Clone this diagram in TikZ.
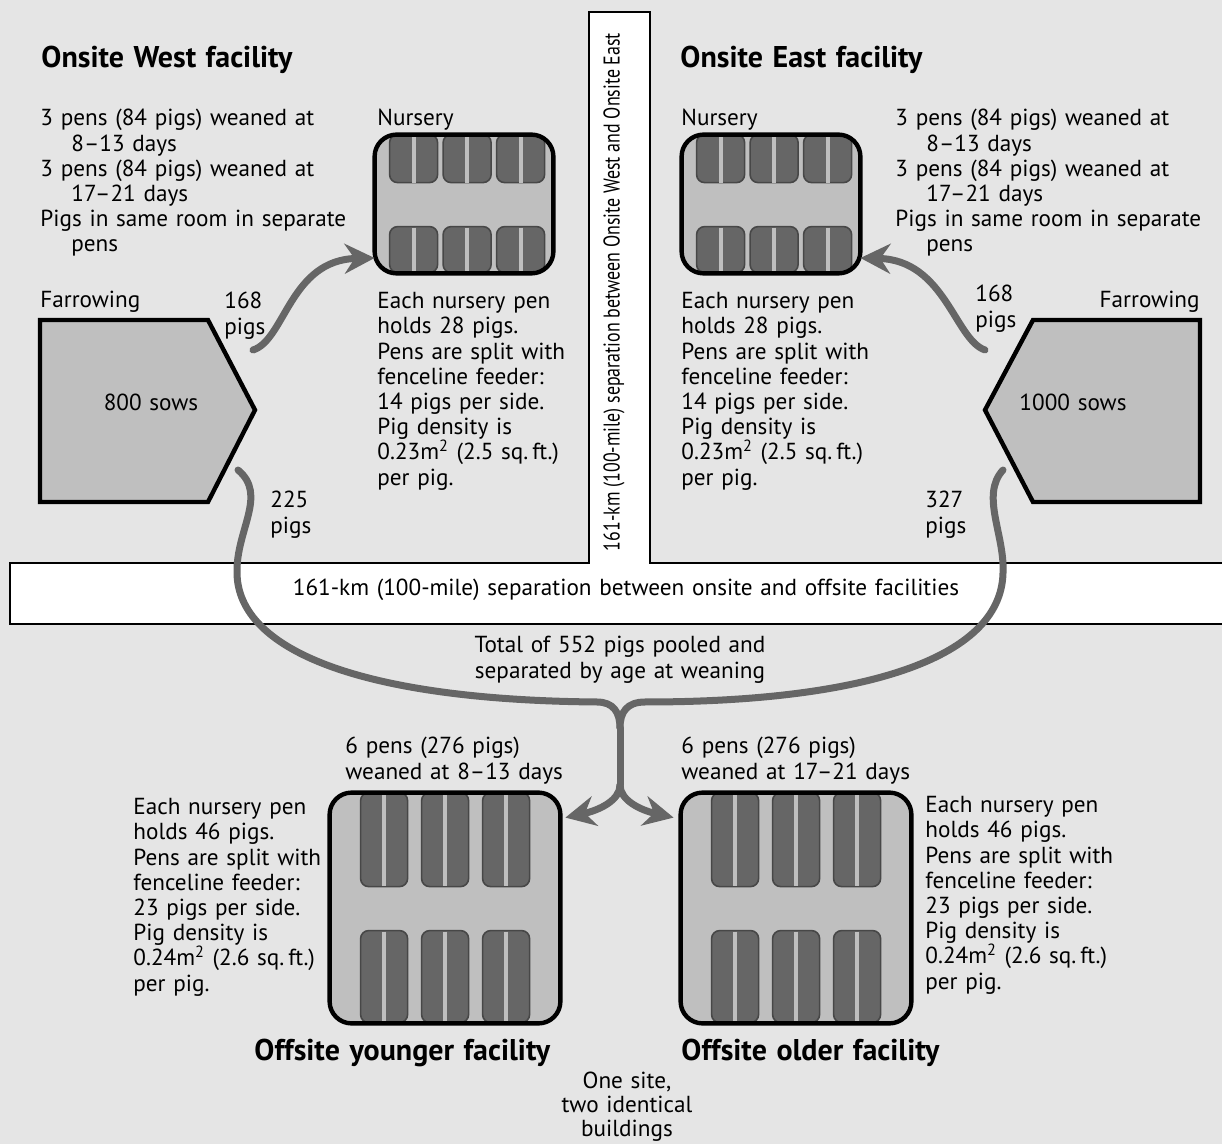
\documentclass[tikz,border=0pt]{standalone}
\usepackage{fontspec}
\setmainfont[WordSpace=1.25]{PT Sans}
\newfontfamily\narrowsans[FakeStretch=0.785]{PT Sans}
\usetikzlibrary{positioning,arrows.meta}

\begin{document}
\begin{tikzpicture}[x=0.5pt,y=-0.5pt,
  hall/.style={fill=black!25,minimum width=89pt,minimum height=69pt,rounded corners=11pt},
  hallline/.style={draw=black,line width=2.2pt,rounded corners=11pt},
  pen/.style={fill=black!60,draw=black!72,line width=0.8pt,rounded corners=4pt},
  slot/.style={draw=black!25,line width=2pt},
  flow/.style={draw=black!60,line width=3.5pt,line cap=round},
  flowtip/.style={-{Stealth[length=15pt,width=15pt,inset=5pt]}},
  txt/.style={align=left,font=\fontsize{11.6}{12.6}\selectfont},
  ctxt/.style={align=center,font=\fontsize{11.6}{12.6}\selectfont},
  head/.style={font=\fontsize{15}{17}\selectfont\bfseries},
  farrow/.style={fill=black!25,draw=black,line width=2.2pt}]
\tikzstyle{every node}+=[inner sep=0pt]
\fill [black!10] (0,0) rectangle (1222,1144);
\useasboundingbox (0,0) rectangle (1222,1144);
\filldraw [fill=white,draw=black,line width=0.6pt] (1240,563) -- (650,563) -- (650,12) -- (589,12) -- (589,563) -- (10,563) -- (10,624) -- (1240,624);
\node [rotate=90,font=\narrowsans\fontsize{11.4}{12}\selectfont] (westeast) at (614,292) {161-km (100-mile) separation between Onsite West and Onsite East};
\node [font=\fontsize{11.6}{12.6}\selectfont] (onoff) at (626,590) {161-km (100-mile) separation between onsite and offsite facilities};

\node [head,anchor=north west] (wtitle) at (41,46) {Onsite West facility};
\node [head,anchor=north west] (etitle) at (680,46) {Onsite East facility};
\node [txt,anchor=north west] (wwean) at (40,109) {3 pens (84 pigs) weaned at\\\hspace*{15.5pt}8--13 days\\3 pens (84 pigs) weaned at\\\hspace*{15.5pt}17--21 days\\Pigs in same room in separate\\\hspace*{15.5pt}pens};
\node [txt,anchor=north west] (ewean) at (895,109) {3 pens (84 pigs) weaned at\\\hspace*{15.5pt}8--13 days\\3 pens (84 pigs) weaned at\\\hspace*{15.5pt}17--21 days\\Pigs in same room in separate\\\hspace*{15.5pt}pens};
\node [txt,anchor=north west] (wnurlbl) at (377,109) {Nursery};
\node [txt,anchor=north west] (enurlbl) at (681,109) {Nursery};

\node [hall] (wnur) at (464,204) {};
\node [hall] (enur) at (771,204) {};
\foreach \n in {wnur,enur} {
  \begin{scope}[shift={(\n.north west)}]
    \foreach \i in {0,1,2} {
      \draw [pen] (15+53.5*\i,0) rectangle +(48,48);
      \draw [pen] (15+53.5*\i,92) rectangle +(48,46);
      \draw [slot] (39+53.5*\i,1) -- +(0,47);
      \draw [slot] (39+53.5*\i,93) -- +(0,44);
    }
  \end{scope}
  \draw [hallline] (\n.north west) rectangle (\n.south east);
}

\draw [farrow] (40,320) -- (208,320) -- (255,410) -- (208,502) -- (40,502) -- cycle;
\node [txt] (wsows) at (151,402) {800 sows};
\node [txt,anchor=north west] (wfarlbl) at (40,291) {Farrowing};
\draw [farrow] (1033,320) -- (1200,320) -- (1200,502) -- (1033,502) -- (985,410) -- cycle;
\node [txt] (esows) at (1073,402) {1000 sows};
\node [txt,anchor=north east] (efarlbl) at (1200,291) {Farrowing};

\node [txt,anchor=north west] (wnurcnt) at (224,292) {168\\pigs};
\node [txt,anchor=north west] (woffcnt) at (270,491) {225\\pigs};
\node [txt,anchor=north west] (enurcnt) at (975,285) {168\\pigs};
\node [txt,anchor=north west] (eoffcnt) at (925,491) {327\\pigs};
\node [txt,anchor=north west] (wnurtxt) at (377,292) {Each nursery pen\\holds 28 pigs.\\Pens are split with\\fenceline feeder:\\14 pigs per side.\\Pig density is\\0.23m\textsuperscript{2} (2.5 sq.\,ft.)\\per pig.};
\node [txt,anchor=north west] (enurtxt) at (681,292) {Each nursery pen\\holds 28 pigs.\\Pens are split with\\fenceline feeder:\\14 pigs per side.\\Pig density is\\0.23m\textsuperscript{2} (2.5 sq.\,ft.)\\per pig.};

\node [ctxt,anchor=north] (pooled) at (620,636) {Total of 552 pigs pooled and\\separated by age at weaning};
\node [txt,anchor=north west] (ywean) at (345,737) {6 pens (276 pigs)\\weaned at 8--13 days};
\node [txt,anchor=north west] (owean) at (681,737) {6 pens (276 pigs)\\weaned at 17--21 days};

\node [hall,minimum width=115pt,minimum height=115pt] (ynur) at (445,908) {};
\node [hall,minimum width=115pt,minimum height=115pt] (onur) at (796,908) {};
\foreach \n in {ynur,onur} {
  \begin{scope}[shift={(\n.north west)}]
    \foreach \i in {0,1,2} {
      \draw [pen] (31+61*\i,0) rectangle +(47,94);
      \draw [pen] (31+61*\i,138) rectangle +(47,92);
      \draw [slot] (54.5+61*\i,1) -- +(0,92);
      \draw [slot] (54.5+61*\i,139) -- +(0,90);
    }
  \end{scope}
  \draw [hallline] (\n.north west) rectangle (\n.south east);
}
\node [txt,anchor=north west] (ypens) at (133,798) {Each nursery pen\\holds 46 pigs.\\Pens are split with\\fenceline feeder:\\23 pigs per side.\\Pig density is\\0.24m\textsuperscript{2} (2.6 sq.\,ft.)\\per pig.};
\node [txt,anchor=north west] (opens) at (925,796) {Each nursery pen\\holds 46 pigs.\\Pens are split with\\fenceline feeder:\\23 pigs per side.\\Pig density is\\0.24m\textsuperscript{2} (2.6 sq.\,ft.)\\per pig.};
\node [head,anchor=north west] (ytitle) at (254,1039) {Offsite younger facility};
\node [head,anchor=north west] (otitle) at (681,1039) {Offsite older facility};
\node [ctxt,anchor=north,font=\fontsize{11.6}{12}\selectfont] (onesite) at (627,1072) {One site,\\two identical\\buildings};

\coordinate (wup) at (253,350);
\coordinate (eup) at (985,350);
\coordinate (wdown) at (238,470);
\coordinate (edown) at (1003,470);
\coordinate (merge) at (620,728);
\coordinate (fork) at (620,785);
\draw [flow,flowtip] (wup) .. controls (285,340) and (290,260) .. ([yshift=-27pt]wnur.west);
\draw [flow,flowtip] (eup) .. controls (955,340) and (945,260) .. ([yshift=-27pt]enur.east);
\draw [flow] (wdown) .. controls (268,495) and (236,530) .. (237,573) .. controls (238,650) and (360,700) .. (597,702) .. controls (613,702) and (620,712) .. (merge);
\draw [flow] (edown) .. controls (980,495) and (1005,535) .. (1003,573) .. controls (1001,660) and (860,702) .. (645,702) .. controls (627,702) and (620,712) .. (merge);
\draw [flow] (merge) -- (fork);
\draw [flow,flowtip] (fork) .. controls (620,800) and (600,810) .. ([shift={(2.5pt,-12.5pt)}]ynur.north east);
\draw [flow,flowtip] (fork) .. controls (620,800) and (640,810) .. ([shift={(-3.5pt,-12.5pt)}]onur.north west);
\end{tikzpicture}
\end{document}
